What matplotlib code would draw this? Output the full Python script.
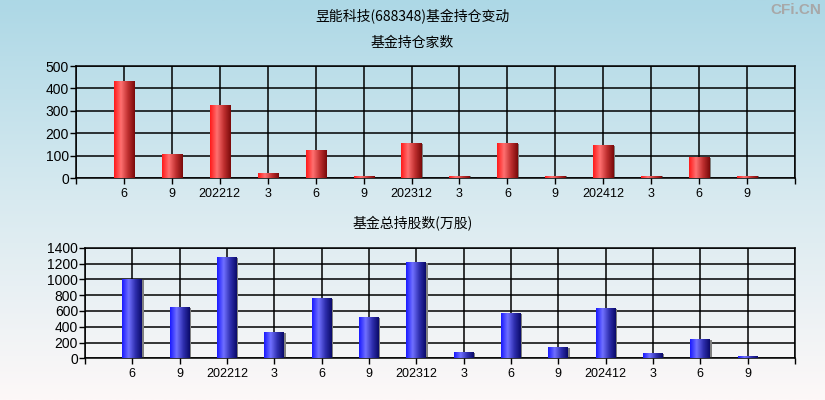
import matplotlib
matplotlib.use("Agg")
import matplotlib.pyplot as plt
import numpy as np
from matplotlib.colors import LinearSegmentedColormap

plt.rcParams['font.family'] = ['Liberation Sans', 'Noto Sans CJK SC', 'DejaVu Sans']

labels = ['6', '9', '202212', '3', '6', '9', '202312', '3', '6', '9', '202412', '3', '6', '9']
funds = [430, 107, 322, 18, 125, 8, 153, 8, 153, 8, 145, 8, 90, 8]
shares = [995, 637, 1270, 322, 750, 510, 1206, 67, 560, 130, 624, 55, 232, 17]

title = '昱能科技(688348)基金持仓变动'
sub1 = '基金持仓家数'
sub2 = '基金总持股数(万股)'

red = LinearSegmentedColormap.from_list('r', ['#ff1a1a', '#ff7070', '#c03030', '#7a0a0a'])
blue = LinearSegmentedColormap.from_list('b', ['#1a1aff', '#7070ff', '#3030b0', '#0a0a6a'])

fig = plt.figure(figsize=(8.25, 4), dpi=100)

# background gradient
bg = fig.add_axes([0, 0, 1, 1], zorder=-10)
grad = np.linspace(0, 1, 256).reshape(-1, 1)
bgmap = LinearSegmentedColormap.from_list('bg', ['#add8e6', '#d8eaf0', '#fdf8f8'])
bg.imshow(grad, aspect='auto', cmap=bgmap, extent=(0, 1, 0, 1), origin='upper')
bg.axis('off')

fig.text(0.5, 1 - 17 / 400, title, ha='center', va='center', fontsize=10,
         family=['Noto Sans CJK SC'])
fig.text(0.5, 1 - 43 / 400, sub1, ha='center', va='center', fontsize=10,
         family=['Noto Sans CJK SC'])
fig.text(0.5, 1 - 224 / 400, sub2, ha='center', va='center', fontsize=10,
         family=['Noto Sans CJK SC'])
fig.text(0.995, 1 - 10 / 400, 'CFi.CN', ha='right', va='center', fontsize=11,
         color='#a8a8a8', fontweight='bold')


def panel(rect, values, cmap, ymax, ystep):
    ax = fig.add_axes(rect)
    ax.patch.set_alpha(0)
    n = len(values)
    x = np.arange(1, n + 1)
    w = 0.42
    # thin grey shadow on the right
    ax.bar(x + 0.03, values, width=w, color='#808080', zorder=2)
    bars = ax.bar(x, values, width=w, color='none', zorder=3)
    g = np.linspace(0, 1, 64).reshape(1, -1)
    for b in bars:
        x0 = b.get_x()
        ax.imshow(g, cmap=cmap, aspect='auto', zorder=3,
                  extent=(x0, x0 + b.get_width(), 0, b.get_height()))
    ax.set_xlim(0, n + 1)
    ax.set_ylim(0, ymax)
    ax.set_xticks(np.arange(0, n + 2))
    ax.set_xticklabels([''] + labels + [''], fontsize=9)
    ax.set_yticks(np.arange(0, ymax + 1, ystep))
    ax.tick_params(axis='y', labelsize=10, length=4, width=1, pad=1)
    ax.tick_params(axis='x', length=4, width=1, pad=3)
    ax.grid(True, color='black', linewidth=1.1, zorder=1)
    ax.set_axisbelow(True)
    for s in ax.spines.values():
        s.set_color('black')
        s.set_linewidth(1.1)
    return ax


panel([76 / 825, 1 - 178 / 400, (795 - 76) / 825, 112 / 400], funds, red, 500, 100)
panel([85 / 825, 1 - 358.3 / 400, (795 - 85) / 825, 110.6 / 400], shares, blue, 1400, 200)

fig.savefig('out.png', dpi=100)
